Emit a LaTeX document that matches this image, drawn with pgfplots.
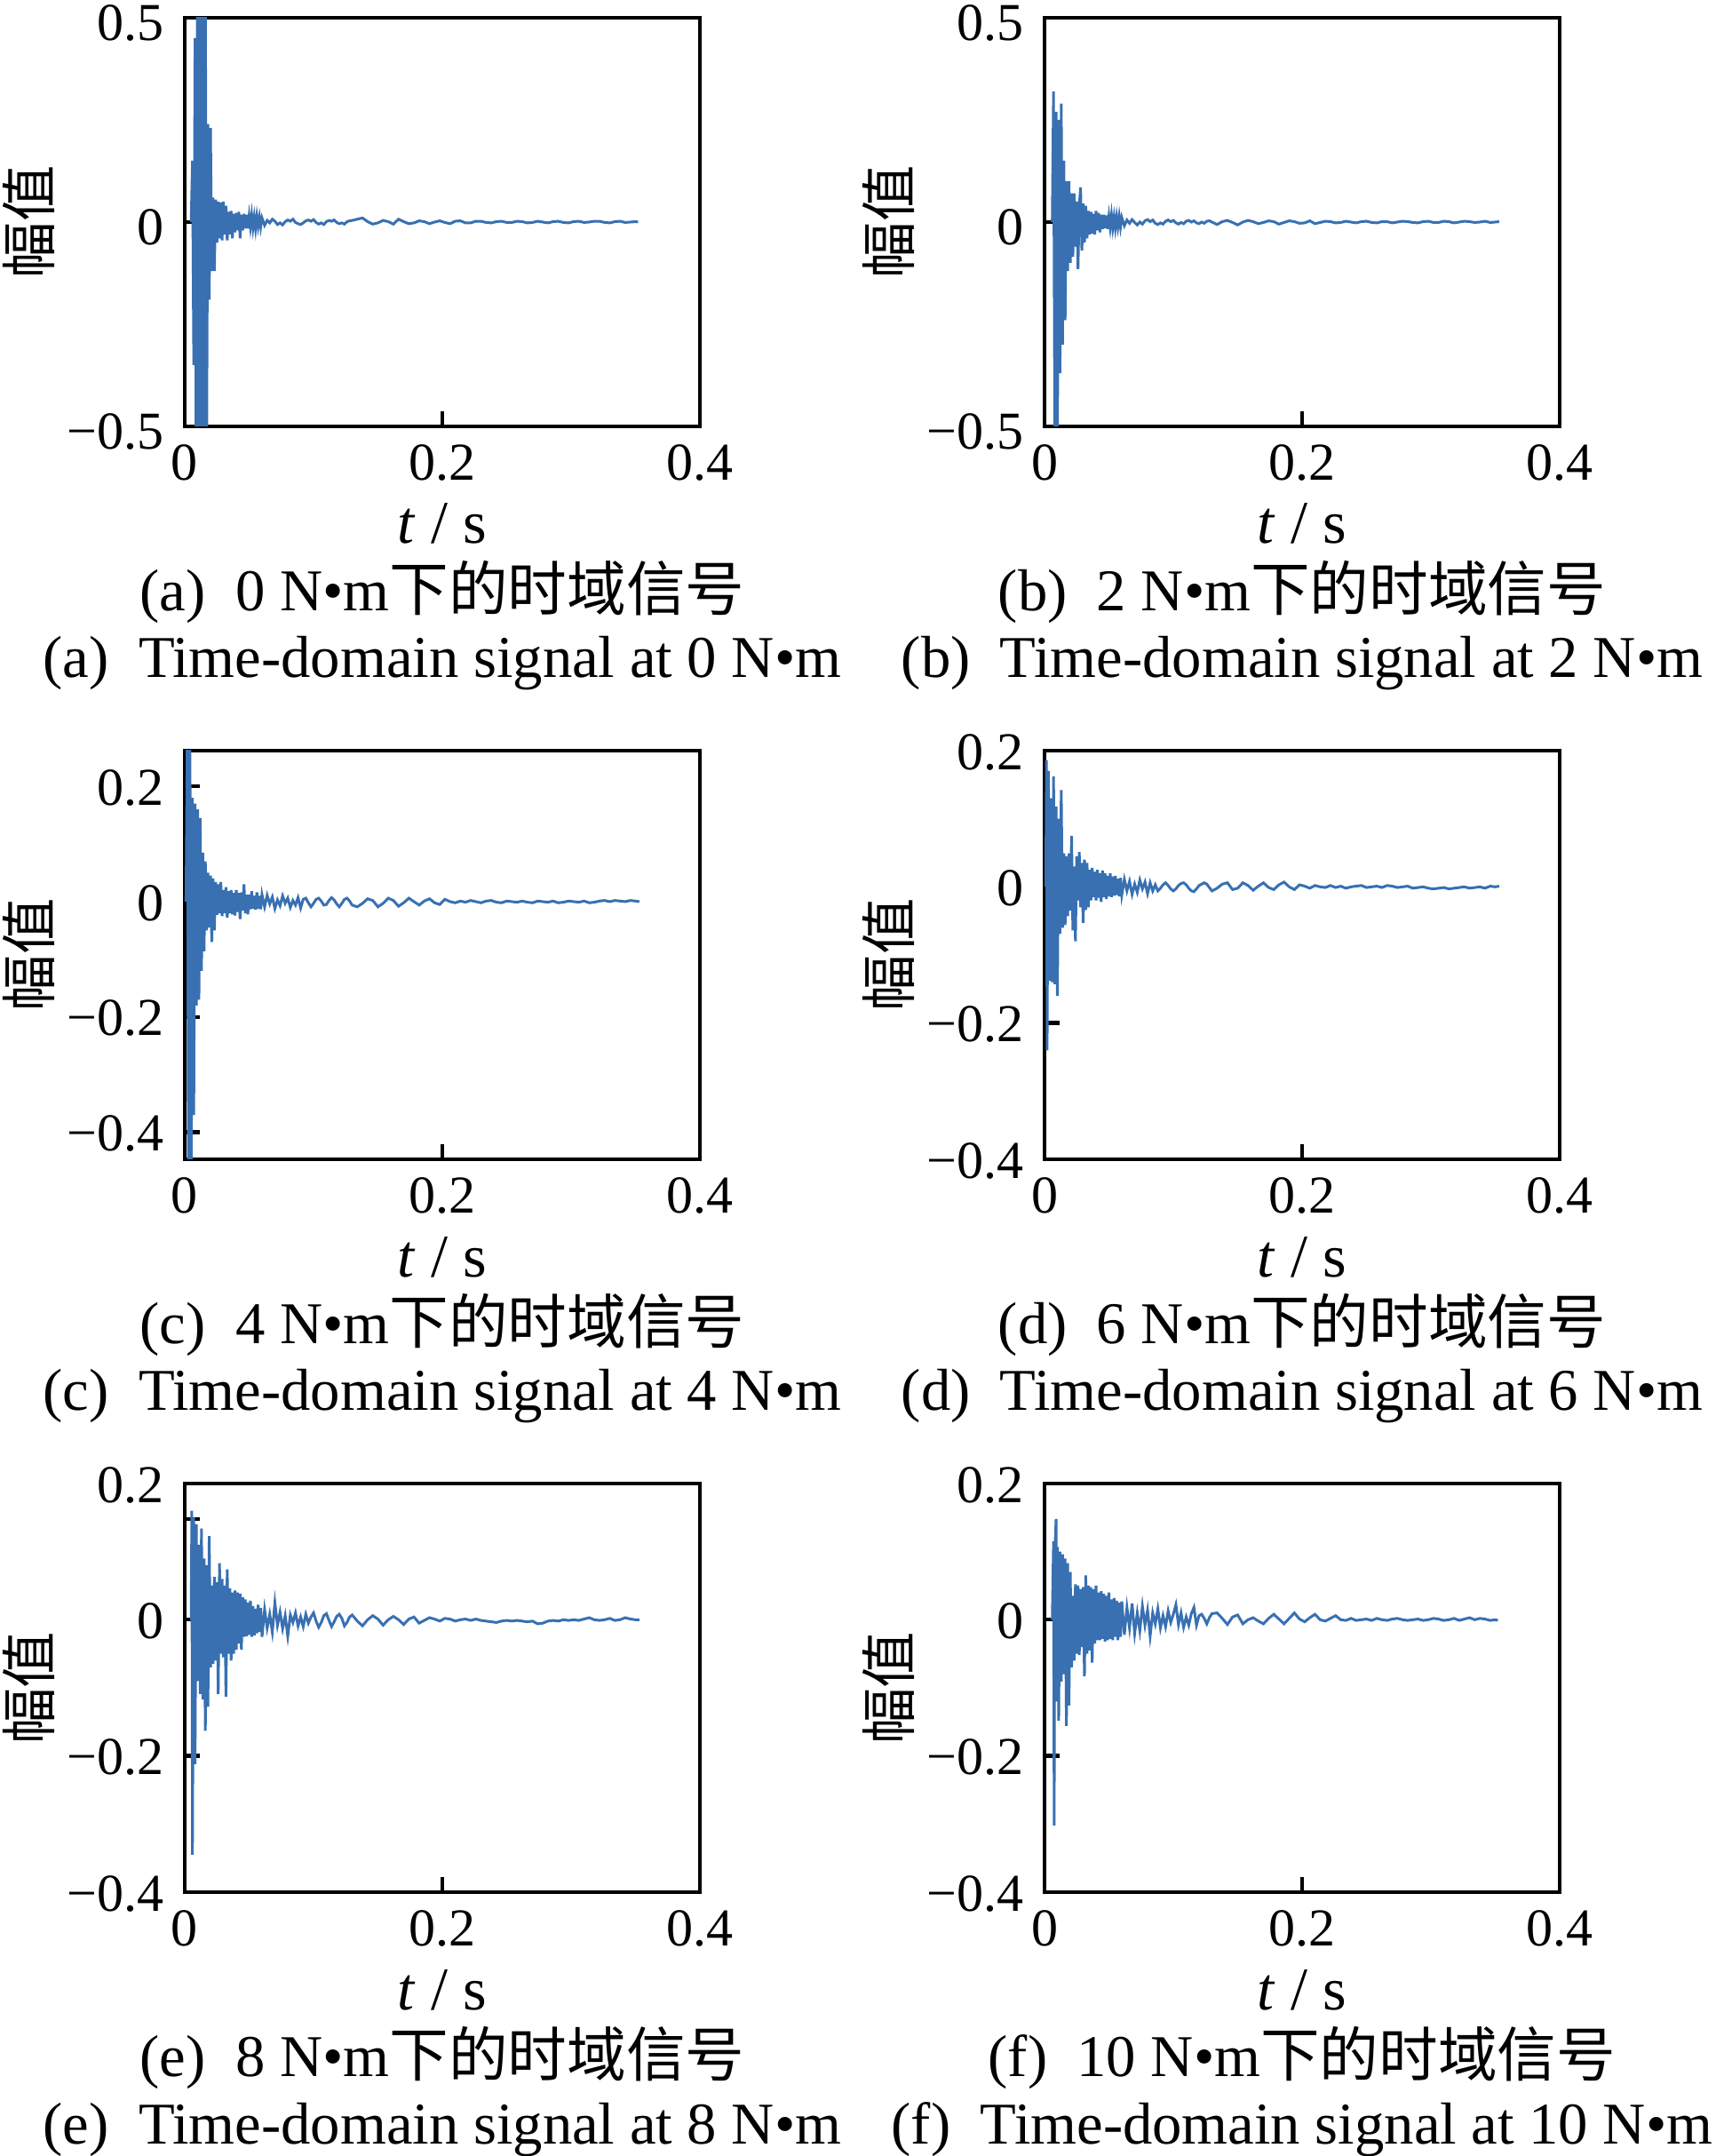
\documentclass[border=0pt]{standalone}
\usepackage{fontspec}
\setmainfont{Liberation Serif}
\newfontfamily\cjk{Noto Sans CJK SC}
\usepackage{pgfplots}
\pgfplotsset{compat=1.18}
\definecolor{sig}{RGB}{56,112,178}
\pgfplotsset{
 panel/.style={
  width=174pt,height=138pt,scale only axis,anchor=south west,
  xmin=0,xmax=0.4,
  xtick={0,0.2,0.4}, xticklabels={0,0.2,0.4},
  tick align=inside, tick pos=left,
  major tick length=5pt,
  axis line style={line width=1.3pt},
  tick style={line width=1.3pt, black},
  /pgf/number format/assume math mode=true,
  tick label style={font=\fontsize{18}{20}\selectfont},
  xticklabel style={inner sep=0pt, anchor=north, yshift=-6pt},
  yticklabel style={inner sep=0pt, anchor=east, xshift=-6.9pt, yshift=-0.5pt},
  xlabel={\textit{t} / s}, ylabel={\cjk 幅值},
  xlabel style={at={(axis description cs:0.5,-0.287)}, anchor=base, inner sep=0pt, font=\fontsize{20.5}{22}\selectfont},
  ylabel style={at={(axis description cs:-0.3034,0.5)}, anchor=center, inner sep=0pt, font=\fontsize{19}{21}\selectfont},
 },
 sigline/.style={color=sig, line width=0.9pt, mark=none},
 big/.style={ymin=-0.5,ymax=0.5,ytick={-0.5,0,0.5},yticklabels={−0.5,0,0.5},yticklabel style={yshift=-1.3pt}},
 small/.style={ymin=-0.4,ymax=0.2,ytick={-0.4,-0.2,0,0.2},yticklabels={−0.4,−0.2,0,0.2}},
}
\newcommand{\capfont}{\fontsize{20}{22}\selectfont}
\begin{document}
\begin{tikzpicture}
\path[use as bounding box] (0,0) rectangle (579.3pt,728.1pt);

% (a)
\begin{axis}[panel,big,at={(62.4pt,584.1pt)}]
\addplot[sigline] coordinates {
(0.005,0.00) (0.006,0.15) (0.007,-0.35) (0.008,0.45) (0.009,-0.75) (0.010,0.80) (0.011,-0.72) (0.012,0.78) (0.013,-0.70) (0.014,0.74) (0.015,-0.68) (0.016,0.62) (0.017,-0.55) (0.018,0.24) (0.019,-0.19) (0.020,0.23) (0.021,-0.12) (0.022,0.06) (0.023,-0.12) (0.024,0.055) (0.025,-0.05) (0.026,0.05) (0.027,-0.04) (0.028,0.048) (0.029,-0.045) (0.030,0.05) (0.031,-0.03) (0.032,0.04) (0.033,-0.045) (0.034,0.025) (0.035,-0.03) (0.036,0.027) (0.037,-0.04) (0.038,0.02) (0.039,-0.025) (0.040,0.022) (0.041,-0.02) (0.042,0.025) (0.043,-0.04) (0.044,0.018) (0.045,-0.02) (0.046,0.02) (0.047,-0.015) (0.048,0.018) (0.049,-0.016) (0.050,0.015) (0.051,-0.012) (0.052,0.017) (0.053,-0.014) (0.054,0.012) (0.055,-0.016) (0.056,0.014) (0.057,-0.01) (0.058,0.012) (0.059,-0.012) (0.060,0.01)
(0.062,-0.008) (0.064,0.004) (0.066,-0.002) (0.068,0.007) (0.070,0.002) (0.072,-0.006) (0.074,-0.002) (0.076,-0.007) (0.078,0.001) (0.080,0.005) (0.082,0.002) (0.084,0.007) (0.086,-0.001) (0.088,-0.004) (0.090,-0.006) (0.092,-0.002) (0.094,0.003) (0.096,0.005) (0.098,0.002) (0.100,0.006) (0.102,-0.001) (0.104,-0.005) (0.106,-0.002) (0.108,-0.006) (0.110,0.001) (0.112,0.004) (0.114,0.002) (0.116,0.005) (0.118,-0.001) (0.120,-0.004) (0.122,-0.002) (0.124,-0.005) (0.126,0.001) (0.128,0.003) (0.130,0.004)
(0.134,0.007) (0.138,0.010) (0.142,0.001) (0.146,-0.005) (0.150,-0.002) (0.154,0.004) (0.158,0.001) (0.162,-0.005) (0.166,0.007) (0.170,0.001) (0.174,-0.004) (0.178,-0.002) (0.182,0.003) (0.186,0.001) (0.190,-0.004) (0.194,0.000) (0.198,0.003) (0.202,-0.001) (0.206,-0.004) (0.210,0.002) (0.214,0.003) (0.218,-0.002) (0.222,-0.002) (0.226,0.002) (0.230,0.002) (0.234,-0.001) (0.238,-0.002) (0.242,0.001) (0.246,0.002) (0.250,-0.001) (0.254,-0.001) (0.258,0.002) (0.262,0.001) (0.266,-0.002) (0.270,-0.001) (0.274,0.002) (0.278,0.000) (0.282,-0.002) (0.286,0.001) (0.290,0.002) (0.294,-0.001) (0.298,-0.002) (0.302,0.001) (0.306,0.002) (0.310,-0.001) (0.314,0.000) (0.318,0.002) (0.322,0.002) (0.326,-0.001) (0.330,-0.002) (0.334,0.001) (0.338,0.002) (0.342,-0.001) (0.346,0.000) (0.350,0.001) (0.352,0.000)
};
\end{axis}

% (b)
\begin{axis}[panel,big,at={(352.8pt,584.1pt)}]
\addplot[sigline] coordinates {
(0.006,0.00) (0.007,0.32) (0.008,-0.55) (0.009,0.27) (0.010,-0.56) (0.011,0.25) (0.012,-0.37) (0.013,0.29) (0.014,-0.30) (0.015,0.15) (0.016,-0.24) (0.017,0.10) (0.018,-0.12) (0.019,0.10) (0.020,-0.10) (0.021,0.07) (0.022,-0.085) (0.023,0.07) (0.024,-0.06) (0.025,0.05) (0.026,-0.115) (0.027,0.04) (0.028,0.085) (0.029,-0.07) (0.030,0.045) (0.031,-0.05) (0.032,0.04) (0.033,-0.04) (0.034,0.027) (0.035,-0.03) (0.036,0.025) (0.037,-0.028) (0.038,0.02) (0.039,-0.03) (0.040,0.027) (0.041,-0.02) (0.042,0.022) (0.043,-0.025) (0.044,0.018) (0.045,-0.017) (0.046,0.018) (0.047,-0.015) (0.048,0.016) (0.049,-0.017) (0.050,0.014) (0.051,-0.013) (0.052,0.017) (0.053,-0.014) (0.054,0.012) (0.055,-0.015) (0.056,0.013) (0.057,-0.011) (0.058,0.014) (0.059,-0.012) (0.060,0.011)
(0.062,-0.009) (0.064,0.005) (0.066,-0.003) (0.068,0.006) (0.070,-0.001) (0.072,-0.007) (0.074,0.000) (0.076,-0.005) (0.078,0.003) (0.080,0.006) (0.082,0.001) (0.084,0.005) (0.086,-0.003) (0.088,-0.006) (0.090,-0.002) (0.092,-0.005) (0.094,0.002) (0.096,0.005) (0.098,0.001) (0.100,0.004) (0.102,-0.002) (0.104,-0.005) (0.106,-0.001) (0.108,-0.004) (0.110,0.002) (0.112,0.004) (0.114,0.000) (0.116,0.003) (0.118,-0.002) (0.120,-0.004) (0.122,0.000) (0.124,-0.003) (0.126,0.002) (0.128,0.003) (0.130,0.000)
(0.134,-0.006) (0.138,0.001) (0.142,0.004) (0.146,-0.001) (0.150,-0.007) (0.154,0.000) (0.158,0.004) (0.162,0.001) (0.166,-0.004) (0.170,-0.001) (0.174,0.003) (0.178,0.001) (0.182,-0.005) (0.186,-0.001) (0.190,0.003) (0.194,0.001) (0.198,-0.003) (0.202,-0.002) (0.206,0.003) (0.210,-0.004) (0.214,-0.001) (0.218,0.002) (0.222,0.001) (0.226,-0.002) (0.230,-0.001) (0.234,0.002) (0.238,0.000) (0.242,-0.002) (0.246,0.001) (0.250,0.002) (0.254,-0.001) (0.258,-0.002) (0.262,0.001) (0.266,0.001) (0.270,-0.002) (0.274,0.000) (0.278,0.002) (0.282,0.001) (0.286,-0.001) (0.290,-0.002) (0.294,0.001) (0.298,0.002) (0.302,-0.001) (0.306,-0.001) (0.310,0.002) (0.314,0.001) (0.318,-0.002) (0.322,0.000) (0.326,0.002) (0.330,0.001) (0.334,-0.001) (0.338,0.000) (0.342,0.002) (0.346,-0.001) (0.350,0.000) (0.353,0.001)
};
\end{axis}

% (c)
\begin{axis}[panel,ymin=-0.447,ymax=0.262,ytick={-0.4,-0.2,0,0.2},yticklabels={−0.4,−0.2,0,0.2},at={(62.4pt,336.6pt)}]
\addplot[sigline] coordinates {
(0.001,0.00) (0.002,0.30) (0.003,-0.55) (0.004,0.32) (0.005,-0.50) (0.006,0.18) (0.007,-0.37) (0.008,0.17) (0.009,-0.18) (0.010,0.16) (0.011,-0.17) (0.012,0.145) (0.013,-0.12) (0.014,0.085) (0.015,-0.086) (0.016,0.07) (0.017,-0.05) (0.018,0.05) (0.019,-0.045) (0.020,0.045) (0.021,-0.07) (0.022,0.04) (0.023,-0.05) (0.024,0.034) (0.025,-0.023) (0.026,0.03) (0.027,-0.02) (0.028,0.034) (0.029,-0.025) (0.030,0.02) (0.031,-0.02) (0.032,0.025) (0.033,-0.028) (0.034,0.018) (0.035,-0.02) (0.036,0.02) (0.037,-0.022) (0.038,0.015) (0.039,-0.024) (0.040,0.02) (0.041,-0.018) (0.042,0.015) (0.043,-0.03) (0.044,0.016) (0.045,-0.015) (0.046,0.03) (0.047,-0.02) (0.048,0.012) (0.049,-0.022) (0.050,0.012) (0.051,-0.013) (0.052,0.018) (0.053,-0.012) (0.054,0.01) (0.055,-0.014) (0.056,0.016) (0.057,-0.012) (0.058,0.01) (0.059,-0.013) (0.060,0.012)
(0.062,-0.009) (0.064,0.011) (0.066,-0.004) (0.068,0.008) (0.070,-0.012) (0.072,0.003) (0.074,-0.007) (0.076,0.010) (0.078,-0.003) (0.080,0.006) (0.082,-0.010) (0.084,0.002) (0.086,-0.006) (0.088,0.007) (0.090,-0.011) (0.092,0.004) (0.094,0.006) (0.096,-0.002) (0.098,-0.009) (0.100,-0.003) (0.102,0.004) (0.104,0.006) (0.106,0.001) (0.108,-0.006) (0.110,-0.005) (0.112,0.002) (0.114,0.007) (0.116,0.003) (0.118,-0.004) (0.120,-0.009) (0.122,-0.003) (0.124,0.004) (0.126,0.006) (0.128,0.001) (0.130,-0.006)
(0.134,-0.009) (0.138,-0.003) (0.142,0.005) (0.146,0.002) (0.150,-0.009) (0.154,-0.003) (0.158,0.006) (0.162,0.002) (0.166,-0.008) (0.170,-0.002) (0.174,0.006) (0.178,0.000) (0.182,-0.006) (0.186,0.001) (0.190,0.005) (0.194,-0.002) (0.198,-0.005) (0.202,0.004) (0.206,0.000) (0.210,-0.002) (0.214,0.001) (0.218,-0.001) (0.222,0.002) (0.226,0.000) (0.230,-0.002) (0.234,0.001) (0.238,0.002) (0.242,-0.001) (0.246,-0.002) (0.250,0.001) (0.254,0.000) (0.258,-0.001) (0.262,0.001) (0.266,-0.001) (0.270,-0.002) (0.274,0.001) (0.278,0.000) (0.282,-0.001) (0.286,0.001) (0.290,-0.002) (0.294,-0.001) (0.298,0.001) (0.302,0.000) (0.306,-0.001) (0.310,0.001) (0.314,-0.002) (0.318,-0.001) (0.322,0.001) (0.326,0.002) (0.330,0.000) (0.334,0.002) (0.338,0.001) (0.342,0.000) (0.346,0.002) (0.350,0.001) (0.353,0.000)
};
\end{axis}

% (d)
\begin{axis}[panel,small,at={(352.8pt,336.6pt)}]
\addplot[sigline] coordinates {
(0.001,0.00) (0.0015,0.186) (0.002,-0.24) (0.003,0.17) (0.004,-0.138) (0.005,0.13) (0.006,-0.14) (0.007,0.162) (0.008,-0.143) (0.009,0.118) (0.010,-0.16) (0.011,0.10) (0.012,-0.069) (0.013,0.142) (0.014,-0.06) (0.015,0.049) (0.016,-0.056) (0.017,0.045) (0.018,-0.043) (0.019,0.049) (0.020,-0.035) (0.021,0.075) (0.022,-0.064) (0.023,0.03) (0.024,-0.08) (0.025,0.045) (0.026,-0.02) (0.027,0.051) (0.028,-0.03) (0.029,0.035) (0.030,-0.053) (0.031,0.04) (0.032,-0.034) (0.033,0.035) (0.034,-0.03) (0.035,0.025) (0.036,-0.02) (0.037,0.028) (0.038,-0.015) (0.039,0.022) (0.040,-0.02) (0.041,0.025) (0.042,-0.016) (0.043,0.02) (0.044,-0.022) (0.045,0.024) (0.046,-0.015) (0.047,0.02) (0.048,-0.018) (0.049,0.016) (0.050,-0.014) (0.051,0.02) (0.052,-0.015) (0.053,0.015) (0.054,-0.013) (0.055,0.016) (0.056,-0.012) (0.057,0.012) (0.058,-0.014) (0.059,0.013) (0.060,-0.012)
(0.062,0.011) (0.064,-0.006) (0.066,0.008) (0.068,-0.011) (0.070,0.004) (0.072,-0.008) (0.074,0.010) (0.076,-0.003) (0.078,0.007) (0.080,-0.010) (0.082,0.006) (0.084,-0.006) (0.086,0.003) (0.088,-0.006) (0.090,-0.002) (0.092,0.003) (0.094,0.006) (0.096,0.002) (0.098,-0.003) (0.100,-0.006) (0.102,-0.003) (0.104,0.002) (0.106,0.005) (0.108,0.006) (0.110,0.003) (0.112,-0.002) (0.114,-0.006) (0.116,-0.007) (0.118,-0.003) (0.120,0.002) (0.122,0.004) (0.124,0.006) (0.126,0.004) (0.128,-0.001) (0.130,-0.006)
(0.134,-0.002) (0.138,0.004) (0.142,0.006) (0.146,-0.004) (0.150,-0.002) (0.154,0.006) (0.158,0.002) (0.162,-0.005) (0.166,0.001) (0.170,0.006) (0.174,-0.001) (0.178,-0.004) (0.182,0.003) (0.186,0.007) (0.190,0.000) (0.194,-0.004) (0.198,0.003) (0.202,0.001) (0.206,-0.002) (0.210,0.002) (0.214,0.000) (0.218,-0.001) (0.222,0.002) (0.226,-0.001) (0.230,0.001) (0.234,-0.002) (0.238,0.000) (0.242,0.001) (0.246,0.002) (0.250,-0.001) (0.254,0.000) (0.258,0.001) (0.262,-0.001) (0.266,0.002) (0.270,0.001) (0.274,-0.001) (0.278,0.000) (0.282,0.001) (0.286,-0.002) (0.290,-0.001) (0.294,0.000) (0.298,-0.002) (0.302,-0.003) (0.306,-0.002) (0.310,-0.001) (0.314,-0.003) (0.318,-0.002) (0.322,-0.001) (0.326,0.000) (0.330,-0.002) (0.334,-0.001) (0.338,0.000) (0.342,-0.002) (0.346,0.001) (0.350,0.000) (0.353,0.001)
};
\end{axis}

% (e)
\begin{axis}[panel,small,extra y ticks={0.148},extra y tick labels={},at={(62.4pt,89.1pt)}]
\addplot[sigline] coordinates {
(0.005,0.00) (0.0055,0.16) (0.006,-0.345) (0.007,0.15) (0.008,-0.212) (0.009,0.14) (0.010,-0.09) (0.011,0.11) (0.012,-0.109) (0.013,0.134) (0.014,-0.117) (0.015,0.09) (0.016,-0.163) (0.017,0.08) (0.018,-0.128) (0.019,0.123) (0.020,-0.07) (0.021,0.05) (0.022,-0.065) (0.023,0.063) (0.024,-0.06) (0.025,0.055) (0.026,-0.109) (0.027,0.083) (0.028,-0.05) (0.029,0.06) (0.030,-0.055) (0.031,0.05) (0.032,-0.113) (0.033,0.074) (0.034,-0.05) (0.035,0.046) (0.036,-0.06) (0.037,0.04) (0.038,-0.05) (0.039,0.043) (0.040,-0.044) (0.041,0.04) (0.042,-0.035) (0.043,0.038) (0.044,-0.044) (0.045,0.033) (0.046,-0.025) (0.047,0.03) (0.048,-0.024) (0.049,0.025) (0.050,-0.022) (0.051,0.028) (0.052,-0.025) (0.053,0.02) (0.054,-0.023) (0.055,0.016) (0.056,-0.02) (0.057,0.022) (0.058,-0.018) (0.059,0.017) (0.060,-0.025)
(0.062,0.015) (0.064,-0.012) (0.066,0.008) (0.068,-0.018) (0.070,0.025) (0.072,-0.008) (0.074,0.011) (0.076,-0.013) (0.078,0.006) (0.080,-0.024) (0.082,0.007) (0.084,-0.004) (0.086,0.010) (0.088,-0.009) (0.090,0.004) (0.092,-0.010) (0.094,0.008) (0.096,-0.005) (0.098,0.004) (0.100,0.010) (0.102,-0.002) (0.104,-0.011) (0.106,-0.004) (0.108,0.006) (0.110,0.009) (0.112,-0.001) (0.114,-0.010) (0.116,-0.003) (0.118,0.005) (0.120,0.008) (0.122,0.002) (0.124,-0.009) (0.126,-0.004) (0.128,0.004) (0.130,0.007)
(0.134,-0.002) (0.138,-0.009) (0.142,0.000) (0.146,0.006) (0.150,0.001) (0.154,-0.008) (0.158,0.000) (0.162,0.005) (0.166,0.000) (0.170,-0.007) (0.174,0.001) (0.178,0.004) (0.182,-0.005) (0.186,-0.001) (0.190,0.003) (0.194,0.001) (0.198,-0.002) (0.202,0.002) (0.206,0.001) (0.210,-0.002) (0.214,0.000) (0.218,0.001) (0.222,-0.001) (0.226,0.001) (0.230,-0.001) (0.234,-0.002) (0.238,-0.003) (0.242,-0.004) (0.246,-0.002) (0.250,-0.001) (0.254,-0.002) (0.258,-0.001) (0.262,-0.002) (0.266,-0.003) (0.270,-0.002) (0.274,-0.006) (0.278,-0.005) (0.282,-0.002) (0.286,-0.001) (0.290,-0.002) (0.294,0.000) (0.298,-0.001) (0.302,0.000) (0.306,-0.001) (0.310,0.001) (0.314,0.003) (0.318,0.000) (0.322,-0.001) (0.326,0.000) (0.330,0.002) (0.334,-0.001) (0.338,0.000) (0.342,0.003) (0.346,0.001) (0.350,0.000) (0.353,0.000)
};
\end{axis}

% (f)
\begin{axis}[panel,small,at={(352.8pt,89.1pt)}]
\addplot[sigline] coordinates {
(0.006,0.00) (0.007,0.115) (0.0075,-0.302) (0.008,0.10) (0.009,0.148) (0.0095,-0.12) (0.010,0.107) (0.011,-0.148) (0.012,0.10) (0.013,-0.091) (0.014,0.096) (0.015,-0.08) (0.016,0.09) (0.017,-0.156) (0.018,0.083) (0.019,-0.126) (0.020,0.07) (0.021,-0.07) (0.022,0.035) (0.023,-0.06) (0.024,0.052) (0.025,-0.05) (0.026,0.05) (0.027,-0.052) (0.028,0.045) (0.029,-0.04) (0.030,0.048) (0.031,-0.083) (0.032,0.065) (0.033,-0.05) (0.034,0.05) (0.035,-0.045) (0.036,0.048) (0.037,-0.063) (0.038,0.045) (0.039,-0.035) (0.040,0.05) (0.041,-0.03) (0.042,0.04) (0.043,-0.03) (0.044,0.042) (0.045,-0.028) (0.046,0.038) (0.047,-0.032) (0.048,0.035) (0.049,-0.03) (0.050,0.04) (0.051,-0.028) (0.052,0.03) (0.053,-0.03) (0.054,0.032) (0.055,-0.025) (0.056,0.028) (0.057,-0.03) (0.058,0.025) (0.059,-0.025) (0.060,0.027)
(0.062,-0.022) (0.064,0.018) (0.066,-0.012) (0.068,0.024) (0.070,-0.020) (0.072,0.010) (0.074,-0.016) (0.076,0.020) (0.078,-0.008) (0.080,0.014) (0.082,-0.024) (0.084,0.010) (0.086,-0.006) (0.088,0.016) (0.090,-0.012) (0.092,0.006) (0.094,-0.010) (0.096,0.013) (0.098,-0.004) (0.100,0.008) (0.102,0.022) (0.104,-0.007) (0.106,0.010) (0.108,-0.011) (0.110,0.004) (0.112,-0.008) (0.114,0.009) (0.116,0.018) (0.118,-0.008) (0.120,0.006) (0.122,0.008) (0.124,0.002) (0.126,-0.006) (0.128,0.003) (0.130,0.009)
(0.134,0.010) (0.138,0.002) (0.142,-0.007) (0.146,0.004) (0.150,0.007) (0.154,-0.006) (0.158,0.000) (0.162,0.003) (0.166,-0.002) (0.170,-0.006) (0.174,0.002) (0.178,0.008) (0.182,0.001) (0.186,-0.006) (0.190,0.002) (0.194,0.010) (0.198,0.001) (0.202,-0.003) (0.206,0.003) (0.210,0.008) (0.214,0.000) (0.218,-0.002) (0.222,0.002) (0.226,0.006) (0.230,0.000) (0.234,-0.001) (0.238,0.002) (0.242,-0.001) (0.246,0.000) (0.250,0.001) (0.254,-0.001) (0.258,0.002) (0.262,0.000) (0.266,-0.001) (0.270,0.001) (0.274,0.002) (0.278,0.000) (0.282,-0.001) (0.286,0.000) (0.290,0.001) (0.294,-0.001) (0.298,0.000) (0.302,0.002) (0.306,0.001) (0.310,-0.001) (0.314,0.000) (0.318,0.002) (0.322,-0.001) (0.326,0.001) (0.330,0.003) (0.334,0.000) (0.338,0.002) (0.342,0.001) (0.346,-0.001) (0.350,0.000) (0.352,-0.001)
};
\end{axis}

% captions
\node[anchor=base,inner sep=0pt,font=\capfont] at (149.4pt,521.7pt) {(a)\hspace{0.5em}0 N•m{\cjk 下的时域信号}};
\node[anchor=base,inner sep=0pt,font=\capfont] at (149.4pt,499.2pt) {(a)\hspace{0.5em}Time-domain signal at 0 N•m};
\node[anchor=base,inner sep=0pt,font=\capfont] at (439.8pt,521.7pt) {(b)\hspace{0.5em}2 N•m{\cjk 下的时域信号}};
\node[anchor=base,inner sep=0pt,font=\capfont] at (439.8pt,499.2pt) {(b)\hspace{0.5em}Time-domain signal at 2 N•m};
\node[anchor=base,inner sep=0pt,font=\capfont] at (149.4pt,274.2pt) {(c)\hspace{0.5em}4 N•m{\cjk 下的时域信号}};
\node[anchor=base,inner sep=0pt,font=\capfont] at (149.4pt,251.7pt) {(c)\hspace{0.5em}Time-domain signal at 4 N•m};
\node[anchor=base,inner sep=0pt,font=\capfont] at (439.8pt,274.2pt) {(d)\hspace{0.5em}6 N•m{\cjk 下的时域信号}};
\node[anchor=base,inner sep=0pt,font=\capfont] at (439.8pt,251.7pt) {(d)\hspace{0.5em}Time-domain signal at 6 N•m};
\node[anchor=base,inner sep=0pt,font=\capfont] at (149.4pt,26.7pt) {(e)\hspace{0.5em}8 N•m{\cjk 下的时域信号}};
\node[anchor=base,inner sep=0pt,font=\capfont] at (149.4pt,4.2pt) {(e)\hspace{0.5em}Time-domain signal at 8 N•m};
\node[anchor=base,inner sep=0pt,font=\capfont] at (439.8pt,26.7pt) {(f)\hspace{0.5em}10 N•m{\cjk 下的时域信号}};
\node[anchor=base,inner sep=0pt,font=\capfont] at (439.8pt,4.2pt) {(f)\hspace{0.5em}Time-domain signal at 10 N•m};
\end{tikzpicture}
\end{document}
